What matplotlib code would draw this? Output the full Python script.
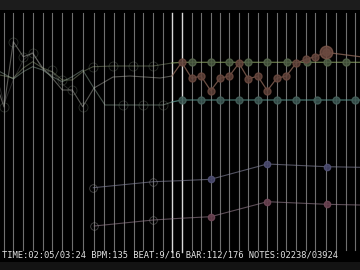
import numpy as np
import matplotlib
matplotlib.use("Agg")
import matplotlib.pyplot as plt

# frame is 360x270, data given in screen pixels (y grows downward)
grid_x = [4, 13.3, 23.3, 32.7, 42.7, 52.3, 62.3, 72.3, 82.7, 94, 104, 114, 124,
          133.7, 143.3, 153, 162.7, 172.3, 181.7, 191.7, 201, 210.7, 220, 229.3,
          239, 248.3, 257.7, 267.3, 276.7, 286.3, 296, 305.7, 315.3, 325.7,
          335.7, 345.7, 355.3]
bright_x = [172.3, 181.7]

# faint past traces on the left
white_x = [0, 4, 13.3, 23.3, 32.7, 42.7, 52.3, 62.3, 72.3, 82.7, 94, 113, 130, 160, 172]
white_y = [95, 107, 41.7, 56.7, 53.3, 68, 78, 90, 90, 106.7, 88, 77, 76, 78, 76]
pale_x = [0, 13.3, 23.3, 32.7, 42.7, 52.3, 62.3, 72.3, 82.7, 93, 105, 123, 143, 163, 172]
pale_y = [71.7, 79, 71.7, 66.7, 70, 76.7, 81.7, 76.7, 70, 86.7, 105, 105, 105, 105, 102]
mint_x = [0, 13.3, 23.3, 32.7, 42.7, 52.3, 62.3, 72.3, 82.7, 93, 113, 133, 153, 172]
mint_y = [75, 78, 68, 61.7, 68, 71.7, 80, 80, 71.7, 66.7, 66, 66, 66, 63]
grey_x = [0, 4, 13.3, 23.3, 32.7, 42.7, 52.3, 62.3, 72.3]
grey_y = [88, 104, 80, 60, 52, 70, 72, 84, 92]
ring_x = [13.3, 23.3, 32.7, 52.3, 72.3, 82.7, 93, 113, 123, 133, 143, 153, 163, 4, 62.3]
ring_y = [41.7, 56.7, 53.3, 70, 90, 106.7, 66.7, 66, 105, 66, 105, 66, 105, 107, 80]

# live lanes on the right
green_x = [172, 181.7, 191.7, 210.7, 229.3, 239, 248.3, 267.3, 286.7, 306.7, 326.7, 345.7, 360]
green_y = [63, 62.3, 62.3, 62.3, 62.3, 62.3, 62.3, 62.3, 62.3, 62.3, 62.3, 62.3, 62.3]
green_dots = [191.7, 210.7, 229.3, 248.3, 267.3, 286.7, 306.7, 326.7, 345.7]
teal_x = [172, 181.7, 201, 220, 239, 257.7, 276.7, 296, 316.7, 335.7, 355.3, 360]
teal_y = [102, 100, 100, 100, 100, 100, 100, 100, 100, 100, 100, 100]
teal_dots = [181.7, 201, 220, 239, 257.7, 276.7, 296, 316.7, 335.7, 355.3]
brown_x = [172, 181.7, 191.7, 201, 210.7, 220, 229.3, 239, 248.3, 257.7, 267.3,
           276.7, 286.3, 296, 305.7, 315.3, 325.7, 360]
brown_y = [76, 62.3, 78.3, 76, 90.7, 78.3, 76, 63.3, 79, 76, 90.7, 78.3, 76,
           63.3, 59.3, 56.7, 52.3, 56.7]

# bottom lanes
top_lane_x = [93.3, 153.3, 180, 210.7, 267.3, 326.7, 360]
top_lane_y = [187.7, 181.7, 180.7, 179.3, 164, 166.7, 167.3]
low_lane_x = [94.3, 153.3, 180, 210.7, 267.3, 326.7, 360]
low_lane_y = [226, 220, 218.3, 216.7, 201.7, 204.3, 205]

status = "TIME:02:05/03:24 BPM:135 BEAT:9/16 BAR:112/176 NOTES:02238/03924"

fig = plt.figure(figsize=(3.6, 2.7), dpi=100, facecolor="black")
ax = fig.add_axes([0, 0, 1, 1])
ax.set_facecolor("black")
ax.set_xlim(0, 360)
ax.set_ylim(270, 0)
ax.axis("off")

# top and bottom bars
ax.axhspan(0, 10, color="#1c1c1c", lw=0)
ax.axhspan(262, 270, color="#131313", lw=0)

for x in grid_x:
    if x in bright_x:
        ax.plot([x, x], [13, 252], color="#d8d8d8", lw=1.0, zorder=1)
    else:
        ax.plot([x, x], [13, 250], color="#8c8c8c", lw=0.8, alpha=0.8, zorder=1)

# left traces
ax.plot(white_x, white_y, color="#c0c0b8", lw=0.8, alpha=0.45, zorder=2)
ax.plot(pale_x, pale_y, color="#9fb8a8", lw=0.8, alpha=0.45, zorder=2)
ax.plot(mint_x, mint_y, color="#a8b890", lw=0.8, alpha=0.4, zorder=2)
ax.plot(grey_x, grey_y, color="#a0a0a0", lw=0.7, alpha=0.25, zorder=2)
ax.plot(ring_x, ring_y, ls="none", marker="o", ms=6.5, mfc="none",
        mec="#8a9a88", mew=0.6, alpha=0.3, zorder=2)

# right lanes
ax.plot(green_x, green_y, color="#90a868", lw=0.9, alpha=0.7, zorder=3)
ax.plot(green_dots, [62.3] * len(green_dots), ls="none", marker="o", ms=5,
        mfc="#48583f", mec="#56664c", alpha=0.85, zorder=3)
ax.plot(teal_x, teal_y, color="#62a098", lw=0.9, alpha=0.7, zorder=3)
ax.plot(teal_dots, [100] * len(teal_dots), ls="none", marker="o", ms=5,
        mfc="#3a5652", mec="#46625c", alpha=0.85, zorder=3)
ax.plot(brown_x, brown_y, color="#9c7262", lw=0.9, alpha=0.7, zorder=4)
ax.plot(brown_x[1:-1], brown_y[1:-1], ls="none", marker="o", ms=5,
        mfc="#5e4038", mec="#6c4a40", alpha=0.85, zorder=4)
ax.plot([brown_x[-2]], [brown_y[-2]], ls="none", marker="o", ms=9,
        mfc="#6c4a40", mec="#7a5448", alpha=0.85, zorder=4)

# bottom lanes
ax.plot(top_lane_x, top_lane_y, color="#8888a0", lw=0.8, alpha=0.6, zorder=3)
ax.plot(top_lane_x[3:-1], top_lane_y[3:-1], ls="none", marker="o", ms=4.5,
        mfc="#46466a", mec="#525276", alpha=0.9, zorder=3)
ax.plot(low_lane_x, low_lane_y, color="#988090", lw=0.8, alpha=0.6, zorder=3)
ax.plot(low_lane_x[3:-1], low_lane_y[3:-1], ls="none", marker="o", ms=4.5,
        mfc="#643e4c", mec="#704858", alpha=0.9, zorder=3)
for xs, ys in [(top_lane_x, top_lane_y), (low_lane_x, low_lane_y)]:
    ax.plot([xs[0], xs[1]], [ys[0], ys[1]], ls="none", marker="o", ms=5.5,
            mfc="none", mec="#9a9a9a", mew=0.6, alpha=0.45, zorder=3)

ax.text(2, 255.5, status, color="#e4e4e4", fontsize=6.3,
        family="DejaVu Sans Mono", va="center", ha="left", zorder=5)

fig.savefig("out.png", dpi=100, facecolor="black")
